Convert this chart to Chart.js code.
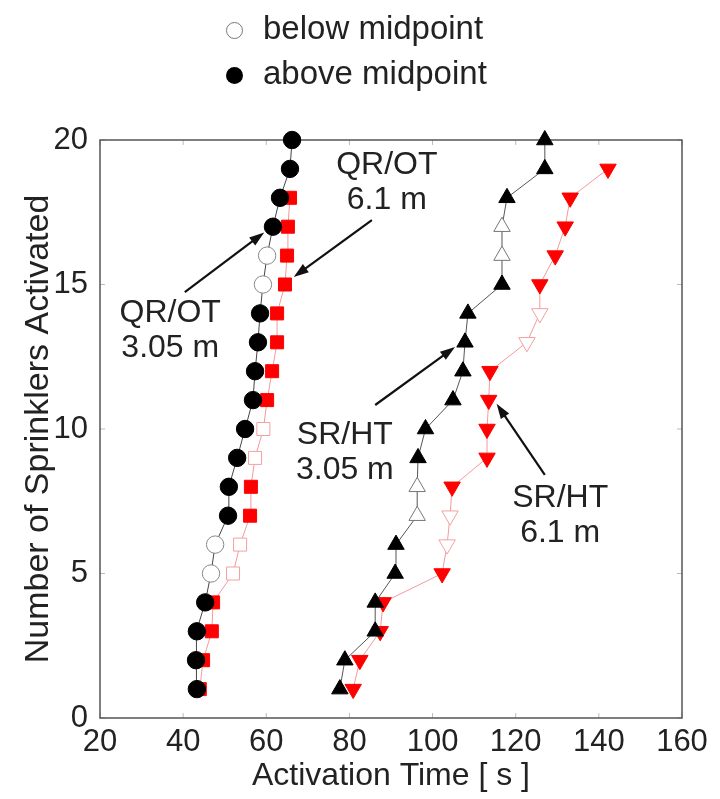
<!DOCTYPE html>
<html lang="en">
<head>
<meta charset="UTF-8">
<title>Sprinkler Activation Times</title>
<script src="https://cdn.jsdelivr.net/npm/chart.js@4.4.1/dist/chart.umd.min.js"></script>
<style>
    body { margin: 0; background: #fff; }
    .wrap { position: relative; width: 720px; height: 799px; }
    .key { position: absolute; left: 226px; font: 33px "Liberation Sans", Arial, sans-serif; color: #222; line-height: 40px; }
    .key span { display: inline-block; width: 17px; height: 17px; border-radius: 50%; margin-right: 20px; vertical-align: middle; box-sizing: border-box; }
    .key .open { border: 1.5px solid #777; background: #fff; }
    .key .full { background: #000; }
</style>
</head>
<body>
<div class="wrap">
    <div class="key" style="top: 8px;"><span class="open"></span>below midpoint</div>
    <div class="key" style="top: 53px;"><span class="full"></span>above midpoint</div>
    <canvas id="chart" width="720" height="799"></canvas>
</div>

<script>
    // sprinkler count for each activation (y values)
    const sprinklers = [1, 2, 3, 4, 5, 6, 7, 8, 9, 10, 11, 12, 13, 14, 15, 16, 17, 18, 19, 20];

    // activation times [s]
    const qrOt305 = [43.3, 43.1, 43.3, 45.3, 46.7, 47.7, 50.8, 51.0, 53.0, 54.9,
                     56.8, 57.3, 58.0, 58.5, 59.2, 60.2, 61.6, 63.3, 65.7, 66.2];
    const qrOt61 = [44.0, 44.8, 46.9, 47.2, 52.0, 53.7, 56.1, 56.3, 57.3, 59.3,
                    60.2, 61.4, 62.6, 62.6, 64.5, 65.0, 65.2, 65.7];
    const srHt305 = [77.7, 78.9, 86.2, 86.2, 91.0, 91.2, 96.3, 96.3, 96.5, 98.3,
                     104.9, 107.3, 107.8, 108.5, 116.7, 116.7, 116.7, 117.9, 127.0, 127.0];
    const srHt61 = [80.9, 82.5, 87.4, 88.1, 102.3, 103.5, 104.2, 104.7, 113.1, 113.1,
                    113.5, 113.8, 122.7, 125.8, 125.8, 129.5, 131.9, 133.1, 142.2];

    // sprinklers located below the midpoint (open markers)
    const qrOt305Below = [5, 6, 15, 16];
    const qrOt61Below = [5, 6, 9, 10];
    const srHt305Below = [7, 8, 16, 17];
    const srHt61Below = [6, 7, 13, 14];

    const xTicks = [20, 40, 60, 80, 100, 120, 140, 160];
    const yTicks = [0, 5, 10, 15, 20];

    // text labels with arrows, in data units
    const notes = [
        { lines: ['QR/OT', '3.05 m'], at: [36.9, 14.0], from: [40.4, 14.74], to: [59.5, 16.8] },
        { lines: ['QR/OT', '6.1 m'], at: [89.0, 19.13], from: [85.4, 17.23], to: [66.6, 15.26] },
        { lines: ['SR/HT', '3.05 m'], at: [78.9, 9.8], from: [86.2, 10.83], to: [105.4, 12.84] },
        { lines: ['SR/HT', '6.1 m'], at: [130.7, 7.6], from: [127.0, 8.41], to: [115.4, 10.87] }
    ];

    const FONT = '"Liberation Sans", Arial, sans-serif';

    function series(label, times, below, style, color, openBorder, lineColor, radius, rotation) {
        return {
            label: label,
            data: times.map((t, i) => ({ x: t, y: sprinklers[i] })),
            showLine: true,
            borderColor: lineColor,
            borderWidth: 1,
            tension: 0,
            pointStyle: style,
            pointRotation: rotation,
            pointRadius: radius,
            pointHoverRadius: radius,
            pointBorderWidth: 1,
            pointBackgroundColor: times.map((t, i) => below.includes(sprinklers[i]) ? '#fff' : color),
            pointBorderColor: times.map((t, i) => below.includes(sprinklers[i]) ? openBorder : color),
            clip: false
        };
    }

    const frame = {
        id: 'frame',
        beforeDatasetsDraw(chart) {
            const { ctx, chartArea: a, scales } = chart;
            ctx.save();
            ctx.strokeStyle = '#bbb';
            ctx.lineWidth = 1;
            ctx.beginPath();
            scales.x.ticks.forEach(t => {
                const px = scales.x.getPixelForValue(t.value);
                ctx.moveTo(px, a.bottom); ctx.lineTo(px, a.bottom - 5);
                ctx.moveTo(px, a.top); ctx.lineTo(px, a.top + 5);
            });
            scales.y.ticks.forEach(t => {
                const py = scales.y.getPixelForValue(t.value);
                ctx.moveTo(a.left, py); ctx.lineTo(a.left + 5, py);
                ctx.moveTo(a.right, py); ctx.lineTo(a.right - 5, py);
            });
            ctx.stroke();
            ctx.strokeStyle = '#555';
            ctx.lineWidth = 1.5;
            ctx.strokeRect(a.left, a.top, a.right - a.left, a.bottom - a.top);
            ctx.restore();
        },
        afterDatasetsDraw(chart) {
            const { ctx, scales: { x, y } } = chart;
            ctx.save();
            ctx.strokeStyle = '#111';
            ctx.font = '32px ' + FONT;
            ctx.textAlign = 'center';
            ctx.textBaseline = 'middle';
            notes.forEach(n => {
                const lx = x.getPixelForValue(n.at[0]);
                const ly = y.getPixelForValue(n.at[1]);
                ctx.fillStyle = '#222';
                n.lines.forEach((s, i) => ctx.fillText(s, lx, ly + i * 35));

                const x0 = x.getPixelForValue(n.from[0]), y0 = y.getPixelForValue(n.from[1]);
                const x1 = x.getPixelForValue(n.to[0]), y1 = y.getPixelForValue(n.to[1]);
                const ang = Math.atan2(y1 - y0, x1 - x0);
                const c = Math.cos(ang), s = Math.sin(ang);
                ctx.lineWidth = 2.2;
                ctx.beginPath();
                ctx.moveTo(x0, y0);
                ctx.lineTo(x1 - 10 * c, y1 - 10 * s);
                ctx.stroke();
                ctx.beginPath();
                ctx.moveTo(x1, y1);
                ctx.lineTo(x1 - 15 * c + 5 * s, y1 - 15 * s - 5 * c);
                ctx.lineTo(x1 - 15 * c - 5 * s, y1 - 15 * s + 5 * c);
                ctx.closePath();
                ctx.fillStyle = '#111';
                ctx.fill();
            });
            ctx.restore();
        }
    };

    new Chart(document.getElementById('chart'), {
        type: 'scatter',
        data: {
            datasets: [
                series('QR/OT 3.05 m', qrOt305, qrOt305Below, 'circle', '#000', '#888', '#444', 8.7, 0),
                series('QR/OT 6.1 m', qrOt61, qrOt61Below, 'rect', '#ff0000', '#f4a0a0', '#f39a9a', 9.2, 0),
                series('SR/HT 3.05 m', srHt305, srHt305Below, 'triangle', '#000', '#777', '#555', 9.5, 0),
                series('SR/HT 6.1 m', srHt61, srHt61Below, 'triangle', '#ff0000', '#f4a0a0', '#f39a9a', 9.5, 180)
            ]
        },
        options: {
            responsive: false,
            animation: false,
            layout: { padding: { top: 140, right: 38, left: 0, bottom: 0 } },
            plugins: {
                legend: { display: false },
                tooltip: { enabled: false }
            },
            scales: {
                x: {
                    type: 'linear',
                    min: 20,
                    max: 160,
                    afterFit: s => { s.height = 81; },
                    afterBuildTicks: s => { s.ticks = xTicks.map(v => ({ value: v })); },
                    grid: { display: false, drawTicks: false },
                    border: { display: false },
                    ticks: { color: '#222', padding: 6, font: { family: FONT, size: 31 }, maxRotation: 0 },
                    title: {
                        display: true,
                        text: 'Activation Time [ s ]',
                        color: '#222',
                        font: { family: FONT, size: 32 },
                        padding: { top: 0, bottom: 4 }
                    }
                },
                y: {
                    type: 'linear',
                    min: 0,
                    max: 20,
                    afterFit: s => { s.width = 100; },
                    afterBuildTicks: s => { s.ticks = yTicks.map(v => ({ value: v })); },
                    grid: { display: false, drawTicks: false },
                    border: { display: false },
                    ticks: { color: '#222', padding: 12, font: { family: FONT, size: 31 } },
                    title: {
                        display: true,
                        text: 'Number of Sprinklers Activated',
                        color: '#222',
                        font: { family: FONT, size: 34 },
                        padding: { top: 18, bottom: 0 }
                    }
                }
            }
        },
        plugins: [frame]
    });
</script>
</body>
</html>
